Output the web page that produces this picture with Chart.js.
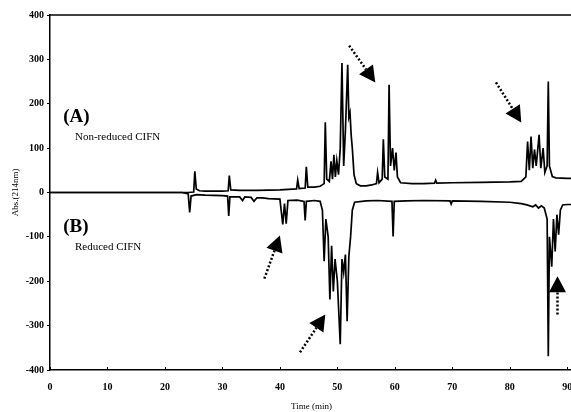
<!DOCTYPE html>
<html><head><meta charset="utf-8">
<script src="https://cdn.jsdelivr.net/npm/chart.js@4.4.1/dist/chart.umd.min.js"></script>
<style>html,body{margin:0;padding:0;background:#fff;overflow:hidden;width:571px;height:412px}
#wrap{width:600px;height:412px}</style></head>
<body><div id="wrap"><canvas id="c" width="600" height="412"></canvas></div>
<script>
// (A) Non-reduced CIFN
const timeA = [0,10,20,24,25.0,25.2,25.45,26,27,30,31.0,31.2,31.45,33,36,40,42.9,43.1,43.35,44.4,44.6,44.85,46,47,47.7,47.9,48.15,48.6,48.9,49.15,49.4,49.65,49.9,50.2,50.5,50.8,51.1,51.4,51.8,52.0,52.2,52.4,52.6,52.9,53.3,54,55,56,56.8,57,57.25,57.8,58.0,58.25,58.8,59.0,59.25,59.6,59.9,60.2,60.45,61,63,65,66.9,67.1,67.3,70,75,80,82,82.8,83.1,83.4,83.7,84.0,84.3,84.6,85.1,85.4,85.8,86.1,86.5,86.7,86.9,87.4,88,90,91];
const absA  = [0,0,0,0,1,48,8,4,3,3,4,38,6,5,5,6,8,28,9,10,58,12,12,14,20,158,30,25,70,30,85,35,72,40,100,292,60,140,288,170,180,130,100,40,20,15,15,17,20,45,22,30,120,35,30,243,60,100,50,90,35,22,20,20,21,28,21,22,23,24,25,35,115,50,126,55,97,60,130,55,100,45,60,250,60,36,33,32,32];
// (B) Reduced CIFN
const timeB = [0,10,20,23,24.05,24.3,24.55,25.5,27,30,30.9,31.1,31.3,33,33.5,33.9,35,35.5,36,37,38,40,40.5,40.8,41.1,41.4,43,44.2,44.4,44.6,46,47,47.4,47.7,48,48.4,48.7,49.0,49.3,49.6,50.0,50.5,50.8,51.1,51.4,51.7,52.0,52.3,52.6,53,55,57,59.5,59.7,59.9,62,65,69.6,69.8,70.0,75,80,82,83,84,84.5,85,85.5,86,86.5,86.7,86.9,87.3,87.6,87.9,88.2,88.5,88.8,89.2,90,91];
const absB  = [0,0,0,0,-3,-45,-8,-5,-6,-7,-8,-53,-10,-10,-18,-10,-11,-20,-12,-12,-14,-15,-72,-25,-70,-18,-17,-20,-63,-20,-18,-20,-40,-155,-60,-100,-241,-120,-223,-150,-200,-342,-150,-180,-140,-290,-144,-100,-40,-22,-19,-18,-20,-99,-20,-19,-18,-19,-26,-19,-20,-22,-25,-28,-32,-28,-35,-30,-35,-60,-369,-100,-167,-60,-133,-50,-95,-40,-28,-27,-27];
const xTickValues = [0,10,20,30,40,50,60,70,80,90];
const yTickValues = [-400,-300,-200,-100,0,100,200,300,400];
// arrows (time, absorbance) from tail to tip
const arrowTailT = [52.05, 77.6, 37.3, 43.5, 88.3];
const arrowTailV = [331, 248, -194, -360, -275];
const arrowTipT  = [56.6, 82.0, 40.0, 47.9, 88.3];
const arrowTipV  = [248, 158, -97, -275, -189];
// text annotations
const noteTexts = ['(A)', 'Non-reduced CIFN', '(B)', 'Reduced CIFN'];
const noteT = [2.3, 4.35, 2.3, 4.35];
const noteV = [169, 124, -77, -122];

const SERIF = '"Liberation Serif","DejaVu Serif",serif';
const noteFonts = ['bold 19px '+SERIF, '11px '+SERIF, 'bold 19px '+SERIF, '11px '+SERIF];

const annot = {
  id: 'annot',
  afterDatasetsDraw(chart) {
    const ctx = chart.ctx, xs = chart.scales.x, ys = chart.scales.y, ca = chart.chartArea;
    ctx.save();
    ctx.strokeStyle = '#000'; ctx.lineWidth = 1.5;
    ctx.beginPath(); ctx.moveTo(ca.left, ca.top); ctx.lineTo(chart.width, ca.top); ctx.stroke();
    ctx.lineWidth = 1;
    xTickValues.forEach(v => {
      const px = Math.round(xs.getPixelForValue(v)) + 0.5;
      ctx.beginPath(); ctx.moveTo(px, ca.bottom); ctx.lineTo(px, ca.bottom - 3); ctx.stroke();
    });
    ctx.fillStyle = '#000';
    for (let i = 0; i < arrowTailT.length; i++) {
      const x0 = xs.getPixelForValue(arrowTailT[i]), y0 = ys.getPixelForValue(arrowTailV[i]);
      const x1 = xs.getPixelForValue(arrowTipT[i]), y1 = ys.getPixelForValue(arrowTipV[i]);
      const dx = x1 - x0, dy = y1 - y0, L = Math.hypot(dx, dy), ux = dx / L, uy = dy / L;
      const hl = 16, hw = 8.5;
      const bx = x1 - ux * hl, by = y1 - uy * hl;
      ctx.setLineDash([2, 2]); ctx.lineWidth = 2.5;
      ctx.beginPath(); ctx.moveTo(x0, y0); ctx.lineTo(bx, by); ctx.stroke();
      ctx.setLineDash([]);
      ctx.beginPath();
      ctx.moveTo(x1, y1);
      ctx.lineTo(bx - uy * hw, by + ux * hw);
      ctx.lineTo(bx + uy * hw, by - ux * hw);
      ctx.closePath(); ctx.fill();
    }
    ctx.textBaseline = 'middle'; ctx.textAlign = 'left';
    noteTexts.forEach((t, i) => {
      ctx.font = noteFonts[i];
      ctx.fillText(t, xs.getPixelForValue(noteT[i]), ys.getPixelForValue(noteV[i]));
    });
    ctx.restore();
  }
};

new Chart(document.getElementById('c'), {
  type: 'line',
  data: {
    datasets: [
      { data: timeA.map((t, i) => ({x: t, y: absA[i]})), borderColor: '#000', borderWidth: 1.7, pointRadius: 0, tension: 0 },
      { data: timeB.map((t, i) => ({x: t, y: absB[i]})), borderColor: '#000', borderWidth: 1.7, pointRadius: 0, tension: 0 }
    ]
  },
  options: {
    responsive: false, animation: false, devicePixelRatio: 1,
    layout: { padding: { left: 8, top: 15, right: 27, bottom: 0 } },
    plugins: { legend: { display: false }, tooltip: { enabled: false } },
    scales: {
      x: {
        type: 'linear', min: 0, max: 91,
        afterBuildTicks(s) { s.ticks = xTickValues.map(v => ({ value: v })); },
        afterFit(s) { s.height = 42; },
        ticks: { color: '#000', font: { family: SERIF, size: 10, weight: 'bold' }, padding: 11, maxRotation: 0, autoSkip: false },
        grid: { display: true, drawOnChartArea: false, drawTicks: false },
        border: { display: true, color: '#000', width: 1.5 },
        title: { display: true, text: 'Time (min)', color: '#000', font: { family: SERIF, size: 9 }, padding: 0 }
      },
      y: {
        min: -400, max: 400,
        afterBuildTicks(s) { s.ticks = yTickValues.map(v => ({ value: v })); },
        afterFit(s) { s.width = 42; },
        ticks: { color: '#000', font: { family: SERIF, size: 10, weight: 'bold' }, padding: 3 },
        grid: { display: true, drawOnChartArea: false, drawTicks: true, tickLength: 3, color: '#000' },
        border: { display: true, color: '#000', width: 1.5 },
        title: { display: true, text: 'Abs.(214nm)', color: '#000', font: { family: SERIF, size: 9 }, padding: 2 }
      }
    }
  },
  plugins: [annot]
});
</script>
</body></html>
